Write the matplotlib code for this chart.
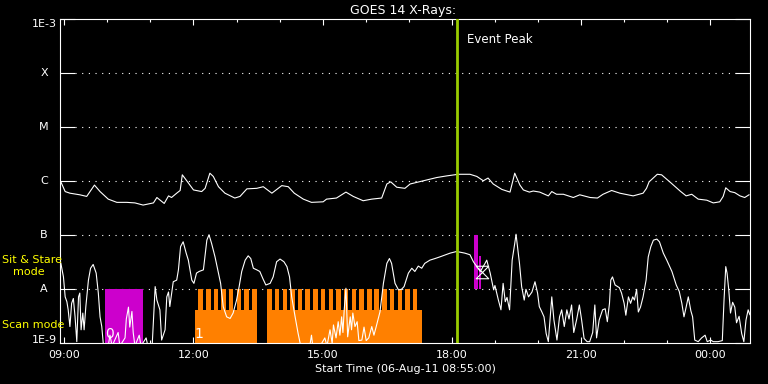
import matplotlib
matplotlib.use('Agg')
import matplotlib.pyplot as plt
import matplotlib.transforms as mtransforms
from matplotlib.path import Path
from matplotlib.ticker import NullLocator

# ---------------- data (hours of 06-Aug-2011, log10 flux W/m^2) ----------------
long_channel = [
    (8.92, -6.01), (9.02, -6.19), (9.13, -6.22), (9.36, -6.25), (9.52, -6.28),
    (9.70, -6.07), (9.83, -6.19), (10.02, -6.33), (10.22, -6.39), (10.45, -6.39),
    (10.64, -6.40), (10.83, -6.44), (11.07, -6.40), (11.15, -6.30), (11.32, -6.41),
    (11.42, -6.27), (11.49, -6.30), (11.61, -6.22), (11.69, -6.17), (11.74, -5.88),
    (11.88, -6.03), (12.00, -6.16), (12.19, -6.19), (12.27, -6.13), (12.38, -5.85),
    (12.46, -5.91), (12.58, -6.10), (12.73, -6.22), (12.96, -6.31), (13.08, -6.28),
    (13.24, -6.14), (13.47, -6.13), (13.62, -6.10), (13.82, -6.22), (14.05, -6.08),
    (14.20, -6.10), (14.34, -6.22), (14.55, -6.33), (14.74, -6.39), (15.01, -6.38),
    (15.09, -6.33), (15.32, -6.31), (15.54, -6.20), (15.71, -6.28), (15.94, -6.36),
    (16.14, -6.33), (16.37, -6.31), (16.49, -6.05), (16.58, -6.01), (16.72, -6.11),
    (16.91, -6.13), (17.03, -6.05), (17.34, -5.99), (17.65, -5.93), (17.88, -5.90),
    (18.15, -5.87), (18.42, -5.87), (18.58, -5.91), (18.73, -5.99), (18.84, -5.94),
    (18.96, -6.05), (19.16, -6.15), (19.35, -6.20), (19.46, -5.85), (19.58, -6.07),
    (19.66, -6.16), (19.80, -6.20), (19.89, -6.18), (20.04, -6.20), (20.24, -6.27),
    (20.32, -6.19), (20.43, -6.24), (20.59, -6.24), (20.82, -6.30), (20.97, -6.25),
    (21.21, -6.30), (21.38, -6.31), (21.51, -6.24), (21.71, -6.17), (21.90, -6.22),
    (22.21, -6.27), (22.44, -6.22), (22.52, -6.13), (22.58, -6.01), (22.77, -5.87),
    (22.87, -5.88), (23.06, -6.01), (23.30, -6.18), (23.44, -6.27), (23.57, -6.24),
    (23.72, -6.33), (23.92, -6.35), (24.07, -6.40), (24.22, -6.38), (24.30, -6.28),
    (24.36, -6.12), (24.46, -6.19), (24.57, -6.21), (24.69, -6.27), (24.80, -6.30),
    (24.90, -6.25),
]

short_channel = [
    (8.92, -7.52), (8.98, -7.77), (9.02, -8.14), (9.06, -8.23), (9.09, -8.38),
    (9.13, -8.69), (9.17, -8.26), (9.21, -8.17), (9.25, -8.51), (9.29, -8.97),
    (9.33, -8.14), (9.36, -8.07), (9.39, -8.75), (9.43, -8.44), (9.46, -8.75),
    (9.50, -8.32), (9.56, -7.83), (9.61, -7.61), (9.67, -7.54), (9.74, -7.70),
    (9.79, -8.07), (9.83, -8.51), (9.87, -8.69), (9.91, -9.05), (10.02, -9.05),
    (10.06, -8.85), (10.11, -9.05), (10.25, -8.80), (10.29, -9.05), (10.41, -8.90),
    (10.44, -8.55), (10.49, -8.33), (10.52, -8.70), (10.57, -8.41), (10.60, -8.80),
    (10.64, -9.05), (10.74, -8.85), (10.78, -9.05), (10.90, -8.90), (10.94, -9.05),
    (11.04, -9.05), (11.11, -7.95), (11.15, -8.20), (11.22, -8.38), (11.26, -8.94),
    (11.34, -8.75), (11.38, -8.14), (11.42, -8.05), (11.45, -8.32), (11.53, -7.86),
    (11.61, -7.83), (11.65, -7.64), (11.70, -7.21), (11.76, -7.12), (11.83, -7.33),
    (11.88, -7.46), (11.96, -7.83), (12.01, -7.89), (12.07, -7.70), (12.13, -7.67),
    (12.23, -7.64), (12.31, -7.09), (12.36, -6.99), (12.42, -7.15), (12.50, -7.40),
    (12.58, -7.70), (12.63, -7.89), (12.69, -8.32), (12.77, -8.51), (12.85, -8.54),
    (12.92, -8.44), (13.00, -8.20), (13.06, -7.95), (13.12, -7.67), (13.20, -7.46),
    (13.27, -7.38), (13.33, -7.43), (13.39, -7.61), (13.47, -7.64), (13.54, -7.67),
    (13.61, -7.80), (13.68, -7.92), (13.78, -7.89), (13.85, -7.77), (13.93, -7.49),
    (14.01, -7.44), (14.10, -7.49), (14.17, -7.58), (14.23, -7.77), (14.28, -8.14),
    (14.36, -8.51), (14.43, -8.82), (14.49, -9.05), (14.70, -9.05), (14.74, -8.85),
    (14.77, -9.05), (14.94, -9.05), (15.05, -8.90), (15.10, -9.05), (15.17, -8.75),
    (15.22, -9.00), (15.25, -8.66), (15.31, -8.90), (15.36, -8.60), (15.40, -8.85),
    (15.44, -8.51), (15.47, -8.80), (15.50, -8.38), (15.54, -7.98), (15.58, -8.88),
    (15.64, -8.51), (15.67, -8.75), (15.70, -8.44), (15.75, -8.69), (15.80, -8.60),
    (15.84, -8.95), (15.91, -8.94), (15.96, -8.70), (16.01, -8.95), (16.07, -8.90),
    (16.14, -8.69), (16.19, -8.85), (16.24, -8.70), (16.29, -8.54), (16.33, -8.42),
    (16.41, -7.89), (16.49, -7.52), (16.55, -7.43), (16.60, -7.52), (16.68, -7.89),
    (16.76, -8.01), (16.83, -8.00), (16.89, -7.95), (16.99, -7.70), (17.07, -7.61),
    (17.14, -7.67), (17.22, -7.57), (17.30, -7.61), (17.37, -7.52), (17.49, -7.46),
    (17.61, -7.43), (17.72, -7.40), (17.96, -7.33), (18.11, -7.30), (18.30, -7.33),
    (18.42, -7.36), (18.50, -7.49), (18.58, -7.58), (18.66, -7.67), (18.77, -7.52),
    (18.81, -7.46), (18.89, -7.70), (18.97, -8.01), (19.00, -7.93), (19.08, -8.20),
    (19.14, -8.38), (19.19, -7.89), (19.24, -8.23), (19.28, -8.15), (19.34, -8.38),
    (19.40, -7.46), (19.46, -7.15), (19.49, -6.98), (19.52, -7.18), (19.57, -7.52),
    (19.62, -7.95), (19.68, -8.20), (19.72, -8.00), (19.78, -8.14), (19.86, -8.05),
    (19.93, -7.86), (19.99, -8.07), (20.03, -8.32), (20.09, -8.42), (20.14, -8.51),
    (20.19, -8.82), (20.24, -8.97), (20.32, -8.14), (20.37, -8.57), (20.44, -8.94),
    (20.50, -8.51), (20.55, -8.38), (20.61, -8.69), (20.67, -8.38), (20.72, -8.55),
    (20.78, -8.29), (20.83, -8.80), (20.90, -8.55), (20.96, -8.29), (21.01, -8.55),
    (21.07, -8.91), (21.14, -8.97), (21.20, -8.97), (21.27, -8.80), (21.32, -8.29),
    (21.36, -8.90), (21.42, -8.57), (21.50, -8.38), (21.56, -8.36), (21.61, -8.60),
    (21.66, -8.26), (21.69, -7.83), (21.73, -7.77), (21.79, -7.92), (21.89, -7.97),
    (21.94, -8.07), (22.00, -8.26), (22.04, -8.48), (22.10, -8.14), (22.15, -8.26),
    (22.20, -8.14), (22.24, -8.20), (22.29, -8.00), (22.33, -8.42), (22.38, -8.33),
    (22.44, -8.14), (22.51, -7.83), (22.56, -7.40), (22.62, -7.21), (22.68, -7.09),
    (22.76, -7.07), (22.82, -7.12), (22.91, -7.33), (22.99, -7.46), (23.11, -7.67),
    (23.21, -7.92), (23.28, -8.04), (23.34, -8.26), (23.39, -8.51), (23.44, -8.33),
    (23.49, -8.14), (23.55, -8.40), (23.59, -8.51), (23.64, -8.94), (23.72, -8.97),
    (23.80, -8.90), (23.88, -8.85), (23.93, -8.97), (24.01, -8.94), (24.07, -8.97),
    (24.18, -8.97), (24.28, -8.95), (24.32, -8.20), (24.36, -7.58), (24.39, -7.70),
    (24.43, -8.01), (24.47, -8.44), (24.52, -8.24), (24.57, -8.33), (24.61, -8.62),
    (24.67, -8.50), (24.73, -8.82), (24.78, -8.97), (24.83, -8.57), (24.88, -8.38),
    (24.92, -8.47),
]

# scan mode: continuous blocks (start, end) and individual scans (start times)
scan_blocks = [(12.03, 13.47), (13.70, 17.30)]
scan_starts = [12.11, 12.29, 12.47, 12.64, 12.82, 13.00, 13.18, 13.36,
               13.71, 13.89, 14.07, 14.25, 14.42, 14.60, 14.78, 14.96, 15.14, 15.31,
               15.49, 15.67, 15.85, 16.03, 16.20, 16.38, 16.56, 16.74, 16.92, 17.09]
scan_duration = 0.105
scan_block_top = 10 ** -8.38
scan_top = 1e-8

# sit & stare / other pointings: (start, end, bottom flux, top flux)
stare_bars = [(9.945, 10.83, 1e-9, 1e-8),
              (18.51, 18.60, 1e-8, 1e-7),
              (18.63, 18.68, 1e-8, 10 ** -7.38)]

event_peak = 18.11
marker_time, marker_flux = 18.69, 10 ** -7.68

xtick_pos = [9, 12, 15, 18, 21, 24]
xtick_labels = ['09:00', '12:00', '15:00', '18:00', '21:00', '00:00']
minor_pos = list(range(9, 25))
ylevels = [1e-9, 1e-8, 1e-7, 1e-6, 1e-5, 1e-4, 1e-3]
ylabels = ['1E-9', 'A', 'B', 'C', 'M', 'X', '1E-3']

ORANGE = '#FF8000'
MAGENTA = '#CC00CC'
GREEN = '#99CC00'
YELLOW = '#FFFF00'

# ---------------- figure ----------------
W, H = 768, 384
fig = plt.figure(figsize=(W / 100, H / 100), dpi=100, facecolor='black')
ax = fig.add_axes([60.3 / W, (H - 343.3) / H, 690 / W, 324 / H], facecolor='black')
ax.set_yscale('log')
ax.set_xlim(8.907, 24.93)
ax.set_ylim(1e-9, 1e-3)

for s in ax.spines.values():
    s.set_color('white')
    s.set_linewidth(0.8)

# scan mode bars
for (a, b) in scan_blocks:
    ax.bar(a, scan_block_top - 1e-9, width=b - a, bottom=1e-9, align='edge',
           color=ORANGE, linewidth=0, zorder=2)
for t0 in scan_starts:
    ax.bar(t0, scan_top - 1e-9, width=scan_duration, bottom=1e-9, align='edge',
           color=ORANGE, linewidth=0, zorder=2)
# sit & stare bars
for (a, b, lo, hi) in stare_bars:
    ax.bar(a, hi - lo, width=b - a, bottom=lo, align='edge',
           color=MAGENTA, linewidth=0, zorder=2)

# dotted gridlines at class levels
for lv in ylevels[1:-1]:
    ax.axhline(lv, xmin=0.021, xmax=0.979, color='white', lw=0.8,
               linestyle=(0, (1, 5)), zorder=1)

# curves
lt, lf = zip(*long_channel)
st, sf = zip(*short_channel)
ax.plot(lt, [10 ** v for v in lf], color='white', lw=0.8, zorder=4)
ax.plot(st, [10 ** v for v in sf], color='white', lw=0.8, zorder=4)

# event peak
ax.axvline(event_peak, color=GREEN, lw=2.0, zorder=5)
ax.text(18.35, 10 ** -3.44, 'Event Peak', color='white', fontsize=8.5,
        va='baseline', ha='left')

# hourglass marker
hg = Path([(-1, 1), (1, 1), (-1, -1), (1, -1), (-1, 1), (-1, 1)],
          [Path.MOVETO, Path.LINETO, Path.LINETO, Path.LINETO, Path.LINETO, Path.CLOSEPOLY])
ax.plot([marker_time], [marker_flux], marker=hg, markersize=9, mfc='none',
        mec='white', mew=0.8, zorder=6)

# small labels within the bars
ax.text(10.05, 10 ** -8.90, '0', color='white', fontsize=10, ha='center', va='baseline', zorder=5)
ax.text(12.13, 10 ** -8.91, '1', color='white', fontsize=10, ha='center', va='baseline', zorder=5)

# ticks
ax.set_xticks(xtick_pos, labels=xtick_labels)
ax.set_xticks(minor_pos, minor=True)
ax.tick_params(axis='x', which='major', direction='in', length=4.5, width=0.8,
               top=True, bottom=True, colors='white', labelsize=8, pad=5)
ax.tick_params(axis='x', which='minor', direction='in', length=2.2, width=0.8,
               top=True, bottom=True, colors='white')
ax.set_yticks(ylevels)
ax.set_yticklabels([])
ax.yaxis.set_minor_locator(NullLocator())
ax.tick_params(axis='y', which='major', direction='in', length=10.8, width=0.8,
               left=True, right=True, colors='white')

# y class labels
tr = mtransforms.blended_transform_factory(ax.transAxes, ax.transData)
for lv, lab in zip(ylevels, ylabels):
    if lab.startswith('1E'):
        va = 'top' if lv == 1e-3 else 'baseline'
        ax.text(-0.005, lv, lab, transform=tr, color='white', fontsize=8,
                ha='right', va=va)
    else:
        ax.text(-0.0236, lv, lab, transform=tr, color='white', fontsize=8,
                ha='center', va='center')

# figure texts
def fx(x):
    return x / W

def fy(y):
    return 1 - y / H

fig.text(fx(403), fy(14), 'GOES 14 X-Rays:', color='white', fontsize=9,
         ha='center', va='baseline')
fig.text(fx(405), fy(371.5), 'Start Time (06-Aug-11 08:55:00)', color='white',
         fontsize=8, ha='center', va='baseline')
fig.text(fx(2), fy(263.3), 'Sit & Stare', color=YELLOW, fontsize=8, ha='left', va='baseline')
fig.text(fx(12.7), fy(275), 'mode', color=YELLOW, fontsize=8, ha='left', va='baseline')
fig.text(fx(2), fy(328.3), 'Scan mode', color=YELLOW, fontsize=8, ha='left', va='baseline')

fig.savefig('out.png', dpi=100, facecolor='black')
